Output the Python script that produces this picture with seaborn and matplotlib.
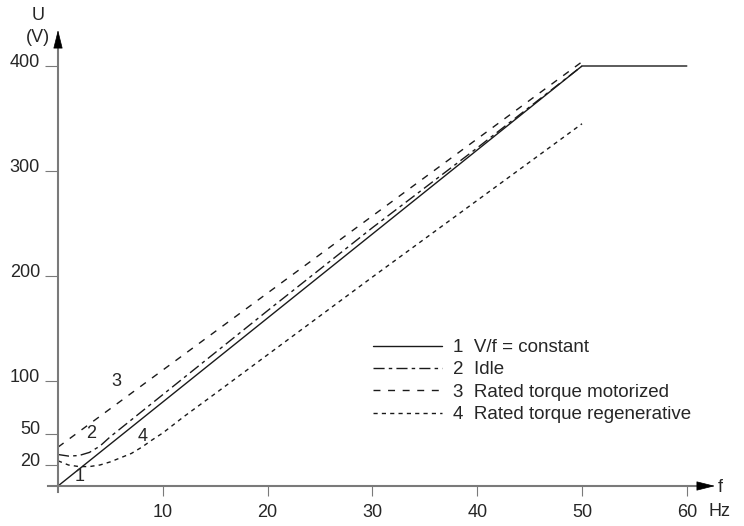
import matplotlib
matplotlib.use('Agg')
import matplotlib.pyplot as plt
import matplotlib.transforms as mtransforms
import seaborn as sns

sns.set_style('white')
plt.rcParams['font.family'] = ['Liberation Sans', 'DejaVu Sans']

# curve data (f in Hz, U in V)
f_const = [0, 50, 60]
u_const = [0, 400, 400]

f_idle = [0, 1, 2, 3, 4, 5, 6, 7, 8, 9, 10, 20, 30, 35, 40, 45, 50]
u_idle = [30, 28.5, 29, 32, 38, 47, 55, 63, 71, 79, 87, 167, 246, 284, 322, 361, 400]

f_motor = [0, 50]
u_motor = [37, 404]

f_regen = [0, 1, 2, 3, 4, 5, 6, 7, 8, 9, 10, 12, 15, 20, 30, 40, 50]
u_regen = [24, 20, 18.5, 18.5, 20, 23, 27, 31, 37, 44, 50.5, 66, 88, 125, 199, 272, 345]

labels = ['1  V/f = constant', '2  Idle', '3  Rated torque motorized',
          '4  Rated torque regenerative']
x_ticks = [10, 20, 30, 40, 50, 60]
y_ticks = [20, 50, 100, 200, 300, 400]

W, H = 744, 526
# pixel mapping of the reference: origin at (58, 486), 10 Hz = 104.8 px, 100 V = 105 px
x0, y0, sx, sy = 58, 486, 10.48, 1.05
xlim = (-2, 65)
ylim = (-10, 440)
left = x0 + xlim[0] * sx
right = x0 + xlim[1] * sx
bottom = y0 - ylim[0] * sy
top = y0 - ylim[1] * sy

fig = plt.figure(figsize=(W / 100, H / 100), dpi=100)
ax = fig.add_axes([left / W, 1 - bottom / H, (right - left) / W, (bottom - top) / H])

line_kw = dict(color='#1a1a1a', lw=1.0, ax=ax, legend=False, sort=False)
sns.lineplot(x=f_const, y=u_const, linestyle='-', label=labels[0], **line_kw)
sns.lineplot(x=f_idle, y=u_idle, linestyle=(0, (8, 3, 2.5, 3)), label=labels[1], **line_kw)
sns.lineplot(x=f_motor, y=u_motor, linestyle=(0, (5, 5.5)), label=labels[2], **line_kw)
sns.lineplot(x=f_regen, y=u_regen, linestyle=(0, (3, 3)), label=labels[3], **line_kw)

ax.set_xlim(*xlim)
ax.set_ylim(*ylim)

gray = '#7a7a7a'
for s in ['top', 'right']:
    ax.spines[s].set_visible(False)
ax.spines['left'].set_position(('data', 0))
ax.spines['bottom'].set_position(('data', 0))
ax.spines['left'].set_bounds(-6, 422)
ax.spines['bottom'].set_bounds(-1, 61)
for s in ['left', 'bottom']:
    ax.spines[s].set_color(gray)
    ax.spines[s].set_linewidth(1.5)

# arrow heads
tip_y = (y0 - 30) / sy
tip_x = (715 - x0) / sx
ax.annotate('', xy=(0, tip_y), xytext=(0, tip_y - 14),
            arrowprops=dict(arrowstyle='-|>,head_length=1.2,head_width=0.3',
                            color='black', lw=0.5, shrinkA=0, shrinkB=0))
ax.annotate('', xy=(tip_x, 0), xytext=(tip_x - 1.5, 0),
            arrowprops=dict(arrowstyle='-|>,head_length=1.2,head_width=0.3',
                            color='black', lw=0.5, shrinkA=0, shrinkB=0))

ax.set_xticks(x_ticks)
ax.set_yticks(y_ticks)
ax.tick_params(axis='x', direction='out', length=7.2, width=0.8, color=gray,
               pad=6, labelsize=13, bottom=True)
ax.tick_params(axis='y', direction='out', length=9.4, width=0.8, color=gray,
               pad=3.5, labelsize=13, left=True)
ax.grid(False)

# y tick labels sit a little above their tick marks
shift = mtransforms.ScaledTranslation(0, 5.5 / 100, fig.dpi_scale_trans)
for lab in ax.get_yticklabels():
    lab.set_transform(lab.get_transform() + shift)

# curve numbers
ax.text(2.1, 8.6, '1', fontsize=13, ha='center', va='center')
ax.text(3.2, 50, '2', fontsize=13, ha='center', va='center')
ax.text(5.6, 100, '3', fontsize=13, ha='center', va='center')
ax.text(8.1, 47.6, '4', fontsize=13, ha='center', va='center')

# axis names
fig.text(38 / W, 1 - 15 / H, 'U', fontsize=13, ha='center', va='center')
fig.text(38 / W, 1 - 38 / H, '(V)', fontsize=13, ha='center', va='center')
fig.text(720 / W, 1 - 487 / H, 'f', fontsize=13, ha='center', va='center')
fig.text(719 / W, 1 - 511 / H, 'Hz', fontsize=13, ha='center', va='center')

ax.legend(loc='upper left', bbox_to_anchor=(373 / W, 1 - 339 / H),
          bbox_transform=fig.transFigure, frameon=False, fontsize=13.5,
          handlelength=3.7, handletextpad=0.55, labelspacing=0.28,
          borderpad=0, borderaxespad=0)

fig.savefig('out.png', dpi=100)
